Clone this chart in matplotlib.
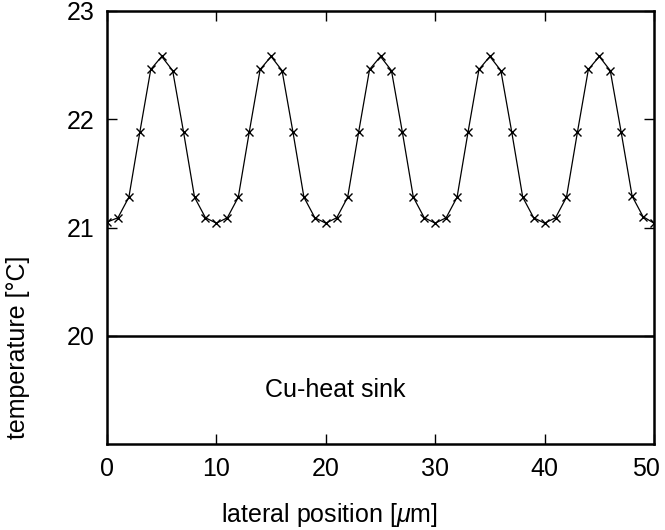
import matplotlib
matplotlib.use("Agg")
import matplotlib.pyplot as plt
import matplotlib.transforms as mtransforms

plt.rcParams['font.family'] = ['Liberation Sans', 'DejaVu Sans']
plt.rcParams['mathtext.fontset'] = 'custom'
plt.rcParams['mathtext.it'] = 'Liberation Sans:italic'
plt.rcParams['mathtext.rm'] = 'Liberation Sans'

## data (lateral position in um, temperature in degC)
position = list(range(0, 51))
temperature = [
    21.05, 21.09, 21.28, 21.88, 22.46, 22.58, 22.45, 21.88, 21.28, 21.09,
    21.04, 21.09, 21.28, 21.88, 22.46, 22.58, 22.45, 21.88, 21.28, 21.09,
    21.04, 21.09, 21.28, 21.88, 22.46, 22.58, 22.45, 21.88, 21.28, 21.09,
    21.04, 21.09, 21.28, 21.88, 22.46, 22.58, 22.45, 21.88, 21.28, 21.09,
    21.04, 21.09, 21.28, 21.88, 22.46, 22.58, 22.45, 21.88, 21.29, 21.10,
    21.04,
]
heat_sink_temp = 20
x_ticks = [0, 10, 20, 30, 40, 50]
y_ticks = [20, 21, 22, 23]

## plot
fig = plt.figure(figsize=(6.65, 5.3), dpi=100)
ax = fig.add_axes([107 / 665, 1 - 444 / 530, (654 - 107) / 665, (444 - 11) / 530])

ax.plot(position, temperature, color='black', linewidth=0.9,
        marker='x', markersize=6, markeredgewidth=1.0)
ax.axhline(heat_sink_temp, color='black', linewidth=1.8)
ax.text(20.9, 19.5, 'Cu-heat sink', fontsize=18, ha='center', va='center')

ax.set_xlim(0, 50)
ax.set_ylim(19, 23)
ax.set_xticks(x_ticks)
ax.set_yticks(y_ticks)
ax.tick_params(direction='in', length=7, width=1.0, labelsize=18,
               top=True, right=True, pad=9)
for s in ax.spines.values():
    s.set_linewidth(1.8)

# last x label sits a bit left of its tick so it stays inside the figure
last = ax.get_xticklabels()[-1]
last.set_transform(last.get_transform() +
                   mtransforms.ScaledTranslation(-0.08, 0, fig.dpi_scale_trans))

fig.text(18 / 665, 1 - 347 / 530, 'temperature [°C]', rotation=90,
         fontsize=18, ha='center', va='center')
fig.text(329 / 665, 1 - 515 / 530, 'lateral position [$\\mathit{\\mu}$m]',
         fontsize=18, ha='center', va='center')

fig.savefig('out.png', dpi=100)
